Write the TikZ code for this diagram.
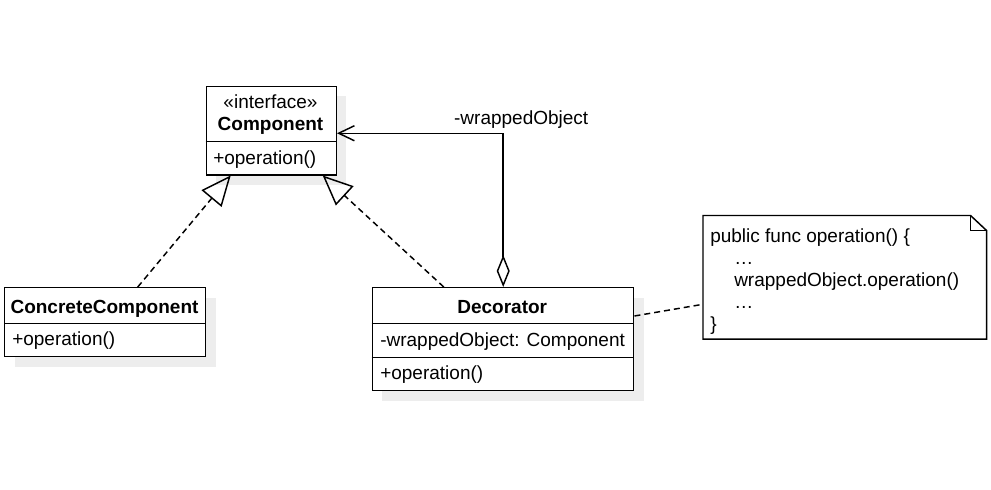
\documentclass[tikz,border=0pt]{standalone}
\usepackage{fontspec}
\setmainfont{Liberation Sans}
\usetikzlibrary{arrows.meta,shadows,calc}
\begin{document}
\begin{tikzpicture}[x=0.75pt,y=-0.75pt,
  every node/.style={font=\fontsize{14.25}{17}\selectfont},
  ln/.style={line width=1.1pt},
  clsbox/.style={draw, line width=1.1pt, fill=white, anchor=north west, inner sep=0pt,
    drop shadow={shadow xshift=7.5pt, shadow yshift=-7.5pt, fill=black!7, opacity=1}},
  txt/.style={inner sep=0pt, anchor=base west},
  ctr/.style={inner sep=0pt, anchor=base},
  bctr/.style={inner sep=0pt, anchor=base, font=\fontsize{14.25}{17}\selectfont\bfseries},
  dsh/.style={line width=1.1pt, dash pattern=on 4.5pt off 3pt},
  real/.style={dsh, -{Triangle[open, length=22.5pt, width=19.5pt]}},
  aggr/.style={ln, {Diamond[open, length=24pt, width=9.75pt]}-{Straight Barb[length=11.8pt, width=11.25pt]}},
]
\useasboundingbox (0,0) rectangle (991,489);

% class boxes
\node[clsbox, minimum width=97.5pt, minimum height=66.4pt] (comp) at (205.5,85.5) {};
\node[clsbox, minimum width=150.75pt, minimum height=51.75pt] (conc) at (4,287) {};
\node[clsbox, minimum width=196.1pt, minimum height=77.25pt] (deco) at (371.5,287) {};

% dividers
\draw[ln] ($(comp.north west)+(0,56.2)$) -- ($(comp.north east)+(0,56.2)$);
\draw[ln] ($(conc.north west)+(0,36.5)$) -- ($(conc.north east)+(0,36.5)$);
\draw[ln] ($(deco.north west)+(0,36.5)$) -- ($(deco.north east)+(0,36.5)$);
\draw[ln] ($(deco.north west)+(0,70.5)$) -- ($(deco.north east)+(0,70.5)$);

% class texts
\node[ctr] (compst) at (270.5,108) {«interface»};
\node[bctr] (compname) at (270.5,130) {Component};
\node[txt] (compop) at (213,164) {+operation()};

\node[bctr] (concname) at (104.5,313) {ConcreteComponent};
\node[txt] (concop) at (12,345) {+operation()};

\node[bctr] (deconame) at (502.25,313) {Decorator};
\node[txt] (decoattr) at (380,346) {-wrappedObject: Component};
\node[txt] (decoop) at (380,379.5) {+operation()};

% note
\node[inner sep=0pt, minimum width=212.25pt, minimum height=92.25pt, anchor=north west] (note) at (703,215.5) {};
\draw[ln, fill=white] (note.north west) -- ([xshift=-12pt]note.north east)
  -- ([yshift=-11.25pt]note.north east) -- (note.south east) -- (note.south west) -- cycle;
\draw[ln] ([xshift=-12pt]note.north east) |- ([yshift=-11.25pt]note.north east);
\node[txt] (n1) at (710,242) {public func operation() \{};
\node[txt] (n2) at (734,264) {…};
\node[txt] (n3) at (734,286) {wrappedObject.operation()};
\node[txt] (n4) at (734,308) {…};
\node[txt] (n5) at (710,330) {\}};

% connectors
\draw[real] ([xshift=24.4pt]conc.north) -- ([xshift=-30.4pt]comp.south);
\draw[real] ([xshift=-44.4pt]deco.north) -- ([xshift=38.6pt]comp.south);
\draw[aggr] ([xshift=0.19pt]deco.north) |- ([yshift=-2.06pt]comp.east)
  node[pos=0.5, ctr, xshift=13.5pt, yshift=6.4pt] (lbl) {-wrappedObject};
\draw[dsh] ([yshift=-21.75pt]deco.north east) -- ([yshift=-20.25pt]note.west);
\end{tikzpicture}
\end{document}
